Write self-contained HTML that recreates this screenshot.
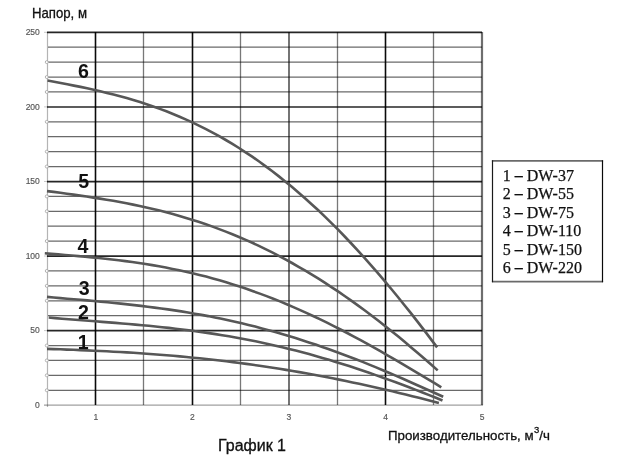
<!DOCTYPE html>
<html><head><meta charset="utf-8"><style>
html,body{margin:0;padding:0;background:#fff;width:617px;height:459px;overflow:hidden}
svg{display:block}
.grid line{mix-blend-mode:multiply}
.ax{font-family:"Liberation Sans",sans-serif;font-size:8.5px;fill:#555;stroke:#555;stroke-width:0.15px;letter-spacing:-0.15px}
.num{font-family:"Liberation Sans",sans-serif;font-size:20.2px;font-weight:bold;fill:#111}
.lg{font-family:"Liberation Serif",serif;font-size:16px;fill:#111;stroke:#111;stroke-width:0.25px}
.tt{font-family:"Liberation Sans",sans-serif;fill:#111;stroke:#111;stroke-width:0.3px}
</style></head><body>
<svg width="617" height="459" viewBox="0 0 617 459">
<rect width="617" height="459" fill="#fff"/>
<g class="grid">
<line x1="44" y1="405.20" x2="483" y2="405.20" stroke="#a0a0a0" stroke-width="1.3"/>
<line x1="48" y1="390.28" x2="482" y2="390.28" stroke="#6a6a6a" stroke-width="1.2"/>
<line x1="48" y1="375.37" x2="482" y2="375.37" stroke="#6a6a6a" stroke-width="1.2"/>
<line x1="48" y1="360.45" x2="482" y2="360.45" stroke="#6a6a6a" stroke-width="1.2"/>
<line x1="48" y1="345.54" x2="482" y2="345.54" stroke="#6a6a6a" stroke-width="1.2"/>
<line x1="44" y1="330.62" x2="47" y2="330.62" stroke="#c8c8c8" stroke-width="1"/>
<line x1="47" y1="330.72" x2="482" y2="330.72" stroke="#262626" stroke-width="1.7"/>
<line x1="48" y1="315.70" x2="482" y2="315.70" stroke="#6a6a6a" stroke-width="1.2"/>
<line x1="48" y1="300.79" x2="482" y2="300.79" stroke="#6a6a6a" stroke-width="1.2"/>
<line x1="48" y1="285.87" x2="482" y2="285.87" stroke="#6a6a6a" stroke-width="1.2"/>
<line x1="48" y1="270.96" x2="482" y2="270.96" stroke="#6a6a6a" stroke-width="1.2"/>
<line x1="44" y1="256.04" x2="47" y2="256.04" stroke="#c8c8c8" stroke-width="1"/>
<line x1="47" y1="256.14" x2="482" y2="256.14" stroke="#262626" stroke-width="1.7"/>
<line x1="48" y1="241.12" x2="482" y2="241.12" stroke="#6a6a6a" stroke-width="1.2"/>
<line x1="48" y1="226.21" x2="482" y2="226.21" stroke="#6a6a6a" stroke-width="1.2"/>
<line x1="48" y1="211.29" x2="482" y2="211.29" stroke="#6a6a6a" stroke-width="1.2"/>
<line x1="48" y1="196.38" x2="482" y2="196.38" stroke="#6a6a6a" stroke-width="1.2"/>
<line x1="44" y1="181.46" x2="47" y2="181.46" stroke="#c8c8c8" stroke-width="1"/>
<line x1="47" y1="181.56" x2="482" y2="181.56" stroke="#262626" stroke-width="1.7"/>
<line x1="48" y1="166.54" x2="482" y2="166.54" stroke="#6a6a6a" stroke-width="1.2"/>
<line x1="48" y1="151.63" x2="482" y2="151.63" stroke="#6a6a6a" stroke-width="1.2"/>
<line x1="48" y1="136.71" x2="482" y2="136.71" stroke="#6a6a6a" stroke-width="1.2"/>
<line x1="48" y1="121.80" x2="482" y2="121.80" stroke="#6a6a6a" stroke-width="1.2"/>
<line x1="44" y1="106.88" x2="47" y2="106.88" stroke="#c8c8c8" stroke-width="1"/>
<line x1="47" y1="106.98" x2="482" y2="106.98" stroke="#262626" stroke-width="1.7"/>
<line x1="48" y1="91.96" x2="482" y2="91.96" stroke="#6a6a6a" stroke-width="1.2"/>
<line x1="48" y1="77.05" x2="482" y2="77.05" stroke="#6a6a6a" stroke-width="1.2"/>
<line x1="48" y1="62.13" x2="482" y2="62.13" stroke="#6a6a6a" stroke-width="1.2"/>
<line x1="48" y1="47.22" x2="482" y2="47.22" stroke="#6a6a6a" stroke-width="1.2"/>
<line x1="44" y1="32.30" x2="47" y2="32.30" stroke="#c8c8c8" stroke-width="1"/>
<line x1="47" y1="32.40" x2="482" y2="32.40" stroke="#262626" stroke-width="1.7"/>
<line x1="47.5" y1="32" x2="47.5" y2="407" stroke="#b4b4b4" stroke-width="1.2"/>
<line x1="95.5" y1="32" x2="95.5" y2="405" stroke="#0a0a0a" stroke-width="1.6"/>
<line x1="143.5" y1="32" x2="143.5" y2="405" stroke="#787878" stroke-width="1.3"/>
<line x1="192.5" y1="32" x2="192.5" y2="405" stroke="#0a0a0a" stroke-width="1.6"/>
<line x1="240.5" y1="32" x2="240.5" y2="405" stroke="#787878" stroke-width="1.3"/>
<line x1="289.0" y1="32" x2="289.0" y2="405" stroke="#6e6e6e" stroke-width="1.9"/>
<line x1="337.5" y1="32" x2="337.5" y2="405" stroke="#787878" stroke-width="1.3"/>
<line x1="385.5" y1="32" x2="385.5" y2="405" stroke="#0a0a0a" stroke-width="1.6"/>
<line x1="433.5" y1="32" x2="433.5" y2="405" stroke="#787878" stroke-width="1.3"/>
<line x1="482.0" y1="32" x2="482.0" y2="405" stroke="#6e6e6e" stroke-width="2.2"/>
<circle cx="46.8" cy="390.28" r="1.5" fill="#fff" stroke="#a8a8a8" stroke-width="0.9"/>
<circle cx="46.8" cy="375.37" r="1.5" fill="#fff" stroke="#a8a8a8" stroke-width="0.9"/>
<circle cx="46.8" cy="360.45" r="1.5" fill="#fff" stroke="#a8a8a8" stroke-width="0.9"/>
<circle cx="46.8" cy="345.54" r="1.5" fill="#fff" stroke="#a8a8a8" stroke-width="0.9"/>
<circle cx="46.8" cy="300.79" r="1.5" fill="#fff" stroke="#a8a8a8" stroke-width="0.9"/>
<circle cx="46.8" cy="285.87" r="1.5" fill="#fff" stroke="#a8a8a8" stroke-width="0.9"/>
<circle cx="46.8" cy="270.96" r="1.5" fill="#fff" stroke="#a8a8a8" stroke-width="0.9"/>
<circle cx="46.8" cy="241.12" r="1.5" fill="#fff" stroke="#a8a8a8" stroke-width="0.9"/>
<circle cx="46.8" cy="211.29" r="1.5" fill="#fff" stroke="#a8a8a8" stroke-width="0.9"/>
<circle cx="46.8" cy="196.38" r="1.5" fill="#fff" stroke="#a8a8a8" stroke-width="0.9"/>
<circle cx="46.8" cy="166.54" r="1.5" fill="#fff" stroke="#a8a8a8" stroke-width="0.9"/>
<circle cx="46.8" cy="151.63" r="1.5" fill="#fff" stroke="#a8a8a8" stroke-width="0.9"/>
<circle cx="46.8" cy="121.80" r="1.5" fill="#fff" stroke="#a8a8a8" stroke-width="0.9"/>
<circle cx="46.8" cy="91.96" r="1.5" fill="#fff" stroke="#a8a8a8" stroke-width="0.9"/>
<circle cx="46.8" cy="77.05" r="1.5" fill="#fff" stroke="#a8a8a8" stroke-width="0.9"/>
<circle cx="46.8" cy="62.13" r="1.5" fill="#fff" stroke="#a8a8a8" stroke-width="0.9"/>
</g>
<path d="M47.5 80.5 L54.1 81.7 L60.7 83.0 L67.3 84.3 L73.9 85.6 L80.5 86.9 L87.1 88.3 L93.7 89.8 L100.3 91.3 L106.9 92.9 L113.5 94.6 L120.1 96.3 L126.7 98.1 L133.3 100.1 L140.0 102.1 L146.6 104.2 L153.2 106.5 L159.8 108.9 L166.4 111.3 L173.0 114.0 L179.6 116.7 L186.2 119.6 L192.8 122.6 L199.4 125.8 L206.0 129.1 L212.6 132.6 L219.2 136.2 L225.8 140.0 L232.4 143.9 L239.0 148.0 L245.6 152.3 L252.2 156.7 L258.8 161.3 L265.4 166.1 L272.0 171.0 L278.6 176.1 L285.2 181.4 L291.8 186.8 L298.4 192.5 L305.0 198.3 L311.6 204.2 L318.3 210.3 L324.9 216.6 L331.5 223.1 L338.1 229.7 L344.7 236.5 L351.3 243.5 L357.9 250.6 L364.5 257.9 L371.1 265.3 L377.7 272.9 L384.3 280.6 L390.9 288.5 L397.5 296.5 L404.1 304.7 L410.7 312.9 L417.3 321.4 L423.9 329.9 L430.5 338.6 L437.1 347.4" fill="none" stroke="#575757" stroke-width="2.6"/>
<path d="M47.0 191.1 L53.6 191.9 L60.3 192.8 L66.9 193.7 L73.5 194.6 L80.1 195.6 L86.7 196.5 L93.4 197.6 L100.0 198.6 L106.6 199.7 L113.2 200.8 L119.9 202.0 L126.5 203.3 L133.1 204.6 L139.7 206.0 L146.3 207.5 L153.0 209.0 L159.6 210.6 L166.2 212.3 L172.8 214.1 L179.5 215.9 L186.1 217.9 L192.7 219.9 L199.3 222.1 L205.9 224.3 L212.6 226.6 L219.2 229.1 L225.8 231.6 L232.4 234.2 L239.0 237.0 L245.7 239.9 L252.3 242.8 L258.9 245.9 L265.5 249.1 L272.2 252.4 L278.8 255.8 L285.4 259.4 L292.0 263.0 L298.6 266.8 L305.3 270.6 L311.9 274.6 L318.5 278.7 L325.1 282.9 L331.8 287.3 L338.4 291.7 L345.0 296.2 L351.6 300.9 L358.2 305.6 L364.9 310.5 L371.5 315.5 L378.1 320.5 L384.7 325.7 L391.3 331.0 L398.0 336.3 L404.6 341.8 L411.2 347.4 L417.8 353.0 L424.5 358.7 L431.1 364.5 L437.7 370.4" fill="none" stroke="#575757" stroke-width="2.6"/>
<path d="M44.8 253.3 L51.5 253.9 L58.2 254.4 L65.0 255.0 L71.7 255.5 L78.4 256.1 L85.1 256.7 L91.8 257.4 L98.6 258.0 L105.3 258.7 L112.0 259.5 L118.7 260.3 L125.4 261.1 L132.2 262.0 L138.9 263.0 L145.6 264.0 L152.3 265.1 L159.0 266.3 L165.8 267.5 L172.5 268.9 L179.2 270.3 L185.9 271.7 L192.6 273.3 L199.4 274.9 L206.1 276.6 L212.8 278.4 L219.5 280.3 L226.2 282.3 L233.0 284.4 L239.7 286.6 L246.4 288.8 L253.1 291.2 L259.8 293.6 L266.6 296.1 L273.3 298.7 L280.0 301.4 L286.7 304.2 L293.4 307.1 L300.2 310.1 L306.9 313.1 L313.6 316.2 L320.3 319.4 L327.0 322.7 L333.8 326.1 L340.5 329.5 L347.2 333.0 L353.9 336.6 L360.6 340.2 L367.4 343.9 L374.1 347.6 L380.8 351.4 L387.5 355.3 L394.2 359.2 L401.0 363.1 L407.7 367.1 L414.4 371.1 L421.1 375.1 L427.8 379.1 L434.6 383.2 L441.3 387.3" fill="none" stroke="#575757" stroke-width="2.6"/>
<path d="M47.0 296.9 L53.7 297.5 L60.4 298.1 L67.2 298.7 L73.9 299.2 L80.6 299.8 L87.3 300.4 L94.0 301.0 L100.7 301.7 L107.5 302.3 L114.2 303.0 L120.9 303.6 L127.6 304.4 L134.3 305.1 L141.0 305.9 L147.7 306.7 L154.5 307.6 L161.2 308.5 L167.9 309.4 L174.6 310.4 L181.3 311.4 L188.0 312.5 L194.7 313.7 L201.5 314.9 L208.2 316.1 L214.9 317.5 L221.6 318.8 L228.3 320.3 L235.0 321.8 L241.8 323.3 L248.5 324.9 L255.2 326.6 L261.9 328.4 L268.6 330.2 L275.3 332.0 L282.0 334.0 L288.8 336.0 L295.5 338.0 L302.2 340.2 L308.9 342.4 L315.6 344.6 L322.3 346.9 L329.0 349.3 L335.8 351.7 L342.5 354.2 L349.2 356.7 L355.9 359.3 L362.6 361.9 L369.3 364.6 L376.1 367.4 L382.8 370.2 L389.5 373.0 L396.2 375.9 L402.9 378.8 L409.6 381.7 L416.3 384.7 L423.1 387.7 L429.8 390.7 L436.5 393.7 L443.2 396.8" fill="none" stroke="#575757" stroke-width="2.6"/>
<path d="M48.7 317.5 L55.3 318.1 L62.0 318.7 L68.7 319.2 L75.4 319.8 L82.0 320.3 L88.7 320.8 L95.4 321.3 L102.1 321.9 L108.7 322.4 L115.4 322.9 L122.1 323.5 L128.8 324.0 L135.4 324.6 L142.1 325.2 L148.8 325.8 L155.5 326.5 L162.1 327.2 L168.8 327.9 L175.5 328.7 L182.2 329.5 L188.8 330.3 L195.5 331.2 L202.2 332.1 L208.9 333.1 L215.6 334.1 L222.2 335.2 L228.9 336.3 L235.6 337.5 L242.3 338.7 L248.9 340.0 L255.6 341.3 L262.3 342.7 L269.0 344.2 L275.6 345.7 L282.3 347.3 L289.0 348.9 L295.7 350.6 L302.3 352.3 L309.0 354.1 L315.7 356.0 L322.4 357.9 L329.0 359.8 L335.7 361.9 L342.4 363.9 L349.1 366.1 L355.7 368.2 L362.4 370.5 L369.1 372.7 L375.8 375.1 L382.4 377.4 L389.1 379.9 L395.8 382.3 L402.5 384.8 L409.1 387.3 L415.8 389.9 L422.5 392.5 L429.2 395.1 L435.9 397.8 L442.5 400.5" fill="none" stroke="#575757" stroke-width="2.6"/>
<path d="M47.0 348.9 L53.7 349.1 L60.3 349.3 L66.9 349.6 L73.6 349.8 L80.2 350.1 L86.9 350.4 L93.5 350.7 L100.1 351.0 L106.8 351.3 L113.4 351.7 L120.1 352.0 L126.7 352.4 L133.4 352.8 L140.0 353.3 L146.6 353.7 L153.3 354.2 L159.9 354.7 L166.6 355.3 L173.2 355.8 L179.8 356.4 L186.5 357.0 L193.1 357.7 L199.8 358.3 L206.4 359.0 L213.1 359.8 L219.7 360.5 L226.3 361.3 L233.0 362.1 L239.6 363.0 L246.3 363.9 L252.9 364.8 L259.5 365.8 L266.2 366.7 L272.8 367.7 L279.5 368.8 L286.1 369.9 L292.7 371.0 L299.4 372.1 L306.0 373.3 L312.7 374.5 L319.3 375.7 L326.0 377.0 L332.6 378.3 L339.2 379.6 L345.9 381.0 L352.5 382.4 L359.2 383.8 L365.8 385.2 L372.4 386.7 L379.1 388.2 L385.7 389.7 L392.4 391.3 L399.0 392.9 L405.7 394.5 L412.3 396.2 L418.9 397.8 L425.6 399.5 L432.2 401.2 L438.9 403.0" fill="none" stroke="#575757" stroke-width="2.6"/>
<text x="39.5" y="35.0" text-anchor="end" class="ax">250</text>
<text x="39.5" y="109.6" text-anchor="end" class="ax">200</text>
<text x="39.5" y="184.2" text-anchor="end" class="ax">150</text>
<text x="39.5" y="258.8" text-anchor="end" class="ax">100</text>
<text x="39.5" y="333.4" text-anchor="end" class="ax">50</text>
<text x="39.5" y="408.0" text-anchor="end" class="ax">0</text>
<text x="95.8" y="420" text-anchor="middle" class="ax">1</text>
<text x="192.3" y="420" text-anchor="middle" class="ax">2</text>
<text x="288.9" y="420" text-anchor="middle" class="ax">3</text>
<text x="385.5" y="420" text-anchor="middle" class="ax">4</text>
<text x="482.0" y="420" text-anchor="middle" class="ax">5</text>
<text x="78.0" y="78.2" class="num" textLength="10.9" lengthAdjust="spacingAndGlyphs">6</text>
<text x="78.2" y="188.3" class="num" textLength="10.9" lengthAdjust="spacingAndGlyphs">5</text>
<text x="77.6" y="252.6" class="num" textLength="10.9" lengthAdjust="spacingAndGlyphs">4</text>
<text x="78.8" y="294.6" class="num" textLength="10.9" lengthAdjust="spacingAndGlyphs">3</text>
<text x="77.9" y="319.3" class="num" textLength="10.9" lengthAdjust="spacingAndGlyphs">2</text>
<text x="77.8" y="349.1" class="num" textLength="10.9" lengthAdjust="spacingAndGlyphs">1</text>

<line x1="491.9" y1="160.9" x2="603.1" y2="160.9" stroke="#6a6a6a" stroke-width="1.6"/>
<line x1="491.9" y1="281.6" x2="603.1" y2="281.6" stroke="#6a6a6a" stroke-width="1.6"/>
<line x1="492.5" y1="160.3" x2="492.5" y2="282.2" stroke="#1a1a1a" stroke-width="1.2"/>
<line x1="602.5" y1="160.3" x2="602.5" y2="282.2" stroke="#0a0a0a" stroke-width="1.2"/>
<text x="502.8" y="181.0" class="lg">1 <tspan font-weight="bold">–</tspan> DW-37</text>
<text x="502.8" y="199.4" class="lg">2 <tspan font-weight="bold">–</tspan> DW-55</text>
<text x="502.8" y="217.8" class="lg">3 <tspan font-weight="bold">–</tspan> DW-75</text>
<text x="502.8" y="236.2" class="lg">4 <tspan font-weight="bold">–</tspan> DW-110</text>
<text x="502.8" y="254.6" class="lg">5 <tspan font-weight="bold">–</tspan> DW-150</text>
<text x="502.8" y="273.0" class="lg">6 <tspan font-weight="bold">–</tspan> DW-220</text>

<text x="32" y="18.4" class="tt" font-size="14.2" textLength="55" lengthAdjust="spacingAndGlyphs">Напор, м</text>
<text x="218" y="451" class="tt" font-size="16">График 1</text>
<text x="388" y="440" class="tt" font-size="13.3">Производительность, м<tspan dx="0.4" dy="-7.3" font-size="9.5">3</tspan><tspan dy="7.3">/ч</tspan></text>
</svg>
</body></html>
